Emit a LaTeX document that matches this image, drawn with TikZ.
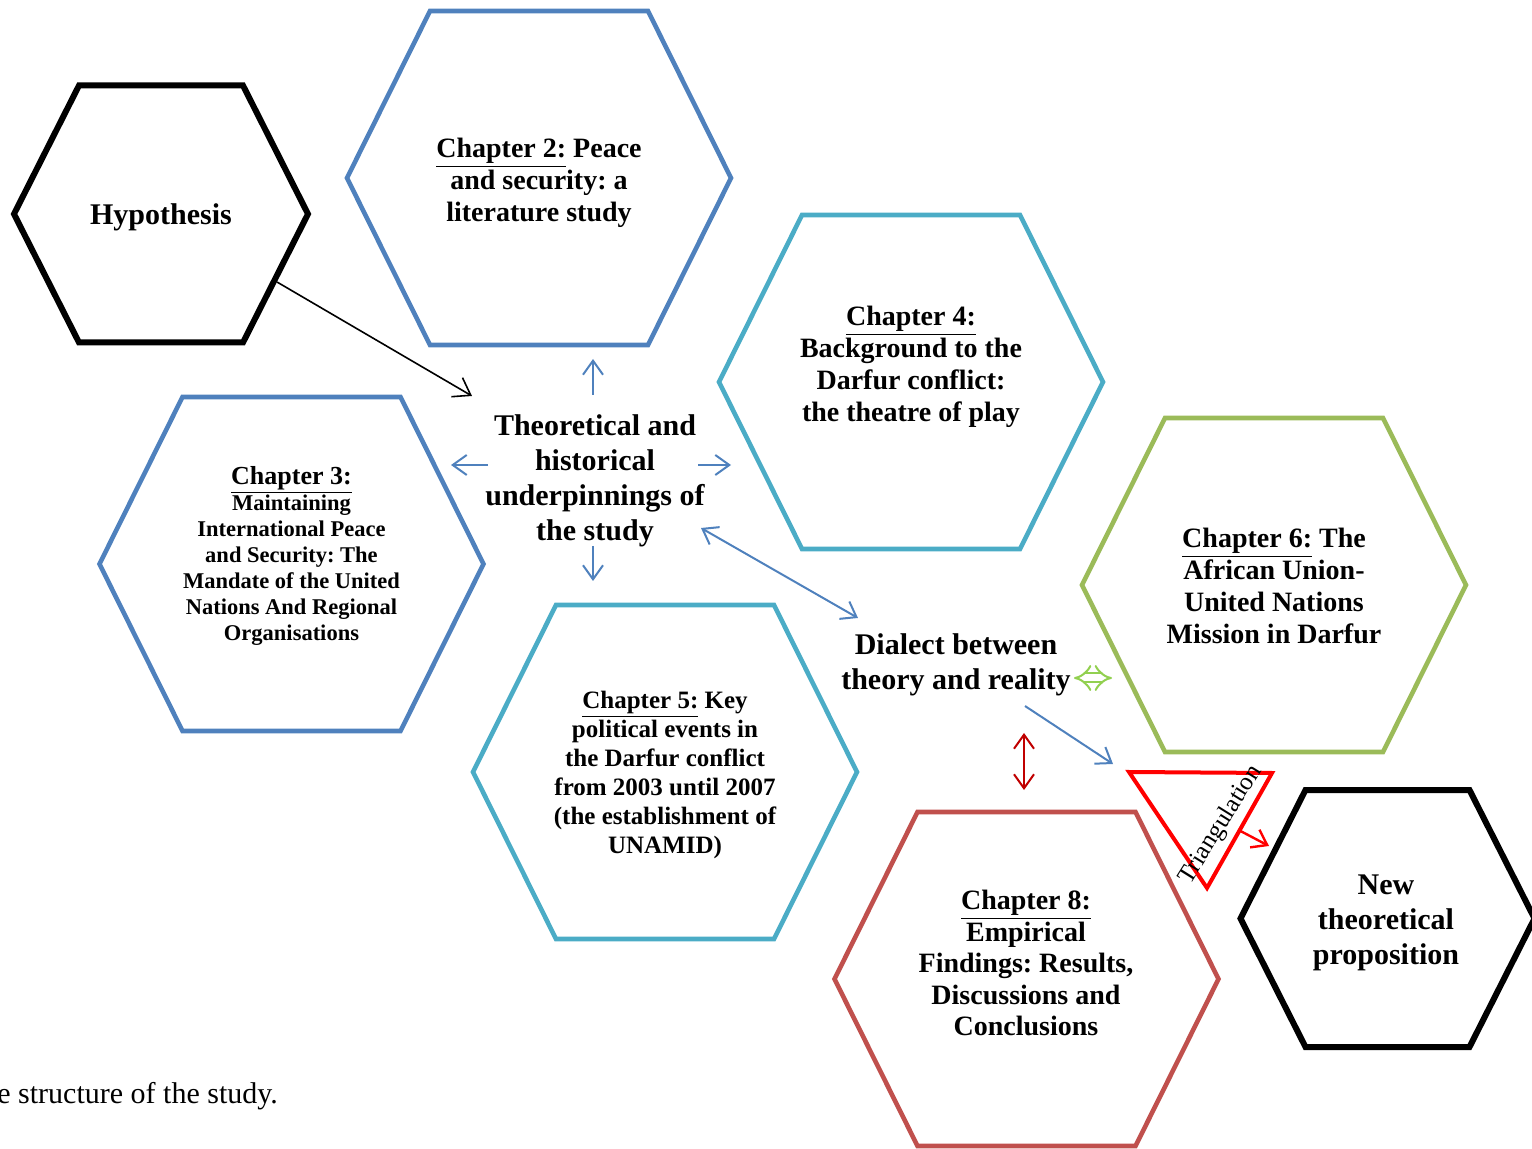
\documentclass[tikz,border=0pt]{standalone}
\usepackage{fontspec}
\setmainfont{Liberation Serif}
\usetikzlibrary{arrows.meta}
\usetikzlibrary{calc}
\frenchspacing

\definecolor{hexblue}{HTML}{4F81BD}
\definecolor{hexteal}{HTML}{4BACC6}
\definecolor{hexgreen}{HTML}{9BBB59}
\definecolor{hexred}{HTML}{C0504D}
\definecolor{lightgreen}{HTML}{92D050}
\definecolor{darkred}{HTML}{C00000}

\tikzset{
  bighex/.pic={\draw [pic actions] (-109,-167) -- (109,-167) -- (192,0) -- (109,167) -- (-109,167) -- (-192,0) -- cycle;},
  smallhex/.pic={\draw [pic actions] (-82,-128.5) -- (82,-128.5) -- (147,0) -- (82,128.5) -- (-82,128.5) -- (-147,0) -- cycle;},
  blackhex/.style={draw=black, line width=3pt},
  colhex/.style={draw=#1, line width=2.3pt},
  bigtext/.style={align=center, inner sep=0pt, font=\bfseries\fontsize{15}{17.5}\selectfont},
  chaptext/.style={align=center, inner sep=0pt, font=\bfseries\fontsize{14}{16}\selectfont},
  flowarrow/.style={draw=hexblue, line width=1pt, ->}
}

\begin{document}
\begin{tikzpicture}[x=0.5pt, y=-0.5pt, >={Straight Barb[length=7pt,width=10pt]}]
  \useasboundingbox (0,0) rectangle (1532,1149);

  % hexagons
  \pic [blackhex] at (161,214) {smallhex};
  \pic [colhex=hexblue] at (539,178) {bighex};
  \pic [colhex=hexteal] at (911,382) {bighex};
  \pic [colhex=hexblue] at (291.5,564) {bighex};
  \pic [colhex=hexteal] at (665,772) {bighex};
  \pic [colhex=hexgreen] at (1274,585) {bighex};
  \pic [colhex=hexred] at (1026.5,979) {bighex};
  \pic [blackhex] at (1387.5,918.5) {smallhex};

  % texts
  \node [bigtext] (hyp) at (161,217) {Hypothesis};
  \node [chaptext] (ch2) at (539,182.5) {\underline{Chapter 2:} Peace\\and security: a\\literature study};
  \node [chaptext] (ch4) at (911,367) {\underline{Chapter 4:}\\Background to the\\Darfur conflict:\\the theatre of play};
  \node [align=center, inner sep=0pt, font=\bfseries\fontsize{11.25}{13}\selectfont] (ch3) at (291.5,555.5)
    {{\fontsize{13}{13}\selectfont\underline{Chapter 3:}}\\Maintaining\\International Peace\\and Security: The\\Mandate of the United\\Nations And Regional\\Organisations};
  \node [align=center, inner sep=0pt, font=\bfseries\fontsize{12.5}{14.5}\selectfont] (ch5) at (665,775)
    {\underline{Chapter 5:} Key\\political events in\\the Darfur conflict\\from 2003 until 2007\\(the establishment of\\UNAMID)};
  \node [chaptext] (ch6) at (1274,586) {\underline{Chapter 6:} The\\African Union-\\United Nations\\Mission in Darfur};
  \node [chaptext, font=\bfseries\fontsize{14}{15.75}\selectfont] (ch8) at (1026,963) {\underline{Chapter 8:}\\Empirical\\Findings: Results,\\Discussions and\\Conclusions};
  \node [bigtext] (new) at (1386,923) {New\\theoretical\\proposition};
  \node [bigtext] (theory) at (595,481) {Theoretical and\\historical\\underpinnings of\\the study};
  \node [bigtext] (dialect) at (956,665) {Dialect between\\theory and reality};
  \node [anchor=west, inner sep=0pt, font=\fontsize{15}{17.5}\selectfont] (caption) at (-3,1096) {e structure of the study.};

  % arrow ends
  \coordinate (hypout) at (277,282);
  \coordinate (hypin) at (472,396);
  \coordinate (tn) at (593,395);  \coordinate (tnx) at (593,359);
  \coordinate (ts) at (593,546);  \coordinate (tsx) at (593,581);
  \coordinate (tw) at (488,465);  \coordinate (twx) at (451,465);
  \coordinate (te) at (698,465);  \coordinate (tex) at (731,465);
  \coordinate (dtop) at (701,528);
  \coordinate (dbot) at (858,618);
  \coordinate (dout) at (1025,706);
  \coordinate (din) at (1113,764);
  \coordinate (gl) at (1074,678);
  \coordinate (gr) at (1112,678);
  \coordinate (rt) at (1024,733);
  \coordinate (rb) at (1024,790);
  \coordinate (tri1) at (1129,772);
  \coordinate (tri2) at (1272,773);
  \coordinate (tri3) at (1207,888);
  \coordinate (triout) at (1269,846);

  % arrows
  \draw [black, line width=0.8pt, -{Straight Barb[length=8pt,width=11pt]}] (hypout) -- (hypin);
  \foreach \s/\e in {tn/tnx, ts/tsx, tw/twx, te/tex}{
    \draw [flowarrow] (\s) -- (\e);
  }
  \draw [flowarrow, <->] (dtop) -- (dbot);
  \draw [flowarrow] (dout) -- (din);
  \draw [lightgreen, line width=1pt, double=white, double distance=3.5pt, {Implies[length=5pt]}-{Implies[length=5pt]}] (gl) -- (gr);
  \draw [darkred, line width=1pt, <->] (rt) -- (rb);

  % triangulation
  \draw [red, line width=2pt] (tri1) -- (tri2) -- (tri3) -- cycle;
  \draw [red, line width=1.2pt, ->] ($(tri2)!0.5!(tri3)$) -- (triout);
  \node [rotate=58, inner sep=0pt, font=\fontsize{12.5}{14}\selectfont] (tritext) at (1221,825) {Triangulation};
\end{tikzpicture}
\end{document}
